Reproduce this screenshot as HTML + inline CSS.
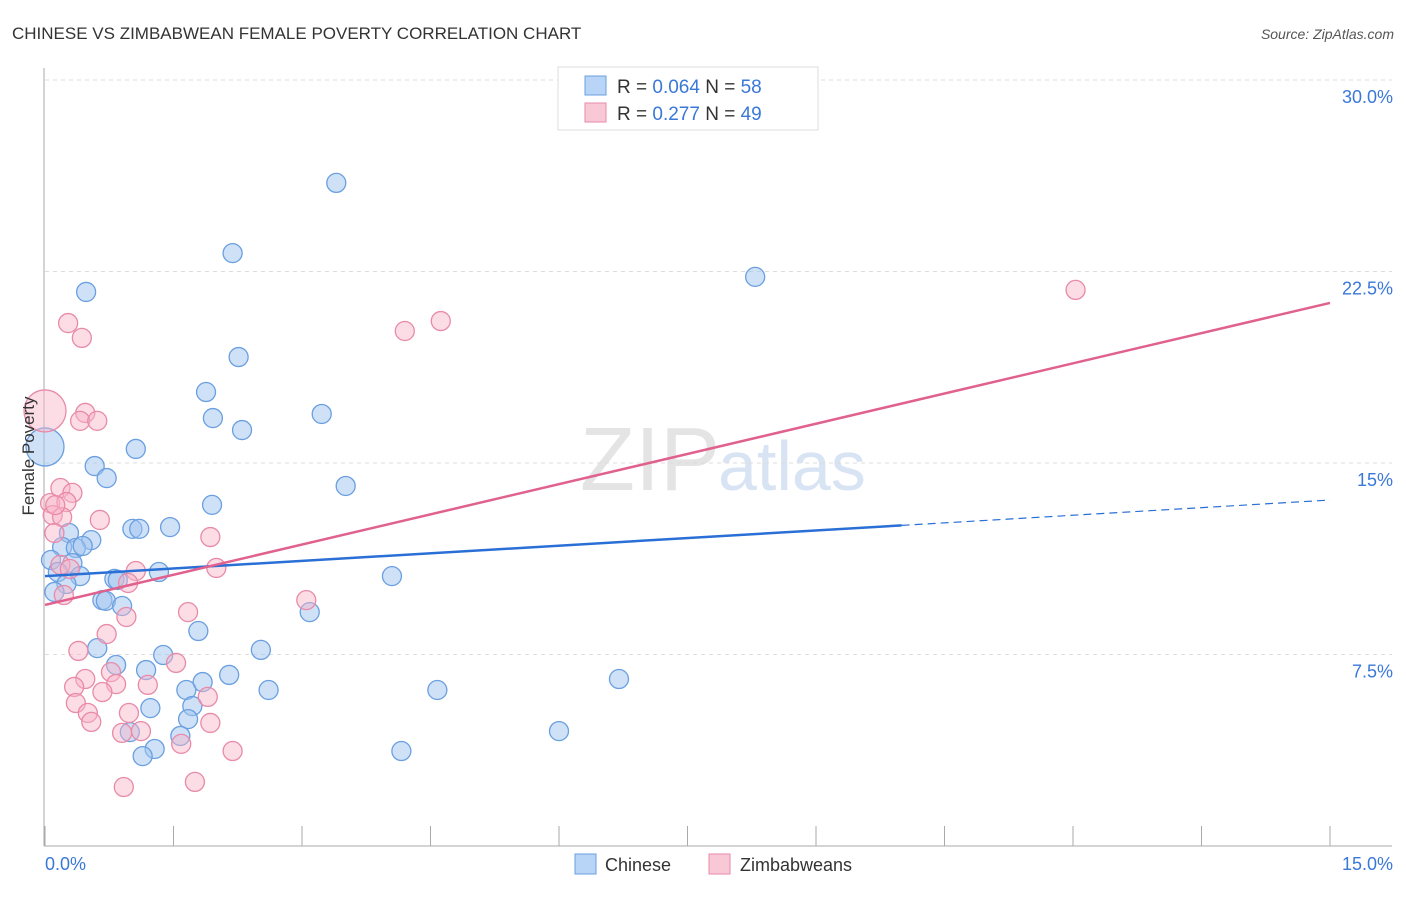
<!DOCTYPE html>
<html><head><meta charset="utf-8"><style>
body{margin:0;background:#fff;font-family:"Liberation Sans",sans-serif}
svg text{font-family:"Liberation Sans",sans-serif}
</style></head><body>
<svg id="chart" width="1406" height="892" xmlns="http://www.w3.org/2000/svg">
<text x="12" y="39" font-size="17" fill="#333">CHINESE VS ZIMBABWEAN FEMALE POVERTY CORRELATION CHART</text>
<text x="1394" y="39" font-size="14" fill="#555" font-style="italic" text-anchor="end">Source: ZipAtlas.com</text>
<text x="720" y="490" font-size="90" fill="#e4e4e4" font-family="Liberation Serif" text-anchor="end">ZIP</text>
<text x="718" y="490" font-size="70" fill="#d8e4f4">atlas</text>
<g id="grid"></g><g id="axes"></g><g id="pts"></g><g id="trend"></g>
<text transform="translate(34,456) rotate(-90)" font-size="17" fill="#333" text-anchor="middle">Female Poverty</text>
<g>
<rect x="558" y="67" width="260" height="63" fill="#fff" stroke="#ddd"/>
<rect x="585" y="76" width="21" height="19" fill="#b8d4f6" stroke="#6a9fe0"/>
<rect x="585" y="103" width="21" height="19" fill="#f9c8d6" stroke="#e88aa8"/>
<text x="617" y="93" font-size="19" fill="#333">R = <tspan fill="#3a78d8">0.064</tspan>   N = <tspan fill="#3a78d8">58</tspan></text>
<text x="617" y="120" font-size="19" fill="#333">R =  <tspan fill="#3a78d8">0.277</tspan>   N = <tspan fill="#3a78d8">49</tspan></text>
</g>
<g>
<rect x="575" y="854" width="21" height="20" fill="#b8d4f6" stroke="#6a9fe0"/>
<text x="605" y="871" font-size="18" fill="#333">Chinese</text>
<rect x="709" y="854" width="21" height="20" fill="#f9c8d6" stroke="#e88aa8"/>
<text x="740" y="871" font-size="18" fill="#333">Zimbabweans</text>
</g>
</svg>
<script>
const yTicks=[30,22.5,15,7.5];
const chineseX=[3.40,2.19,0.48,8.29,2.26,1.88,1.96,3.23,2.30,0,1.06,0.58,0.72,3.51,1.95,1.02,1.10,1.46,0.28,0.54,0.20,0.36,0.44,0.07,0.32,0.41,0.15,0.25,0.81,0.85,1.33,4.05,0.11,0.67,0.71,0.90,3.09,1.79,0.61,2.52,0.83,1.18,1.38,2.15,1.84,1.65,2.61,4.58,6.70,1.23,1.72,1.67,0.99,1.58,1.28,1.14,4.16,6.00];
const chineseY=[25.97,23.22,21.70,22.29,19.15,17.78,16.76,16.92,16.29,15.63,15.55,14.88,14.41,14.10,13.36,12.42,12.42,12.49,12.26,11.98,11.71,11.67,11.75,11.20,11.08,10.57,10.73,10.26,10.46,10.42,10.73,10.57,9.95,9.63,9.60,9.40,9.16,8.42,7.75,7.68,7.09,6.89,7.48,6.70,6.42,6.11,6.11,6.11,6.54,5.40,5.48,4.97,4.46,4.31,3.80,3.52,3.72,4.50];
const zimX=[12.03,0.27,0.43,4.20,4.62,0,0.47,0.41,0.61,0.18,0.32,0.06,0.25,0.09,0.20,0.11,1.93,0.18,1.06,2.00,0.97,0.22,3.05,1.67,0.95,0.72,0.39,1.53,0.77,0.47,0.34,0.83,1.20,0.67,1.90,0.36,0.50,0.98,0.54,1.93,1.12,0.90,1.59,2.19,0.92,1.75,0.12,0.29,0.64];
const zimY=[21.78,20.48,19.90,20.17,20.56,17.04,16.96,16.65,16.65,14.02,13.83,13.43,13.47,12.96,12.88,12.26,12.10,11.01,10.77,10.89,10.30,9.83,9.63,9.16,8.97,8.30,7.64,7.17,6.81,6.54,6.23,6.34,6.31,6.03,5.84,5.60,5.21,5.21,4.86,4.82,4.50,4.43,4.00,3.72,2.31,2.51,13.35,10.85,12.77];
const chineseTrend=[10.57,13.55];
const zimTrend=[9.44,21.27];
const NS='http://www.w3.org/2000/svg';
const sx=v=>45+v/15*1285, sy=v=>846-v*25.533;
function mk(t,a,p){const e=document.createElementNS(NS,t);for(const k in a)e.setAttribute(k,a[k]);document.getElementById(p).appendChild(e);return e;}
yTicks.forEach(t=>{
 const l=mk('line',{x1:45,x2:1392,y1:sy(t),y2:sy(t),stroke:'#ddd','stroke-dasharray':'4,4'},'grid');
 
 
 const tx=mk('text',{x:1393,y:sy(t)+23,'font-size':18,fill:'#3a78d8','text-anchor':'end'},'grid');
 tx.textContent=(t===30?'30.0':t)+'%';
 
 
});
mk('line',{x1:44,x2:44,y1:68,y2:846,stroke:'#aaa'},'axes');
mk('line',{x1:44,x2:1392,y1:846,y2:846,stroke:'#aaa'},'axes');
for(let i=0;i<=10;i++){const t=mk('line',{x1:sx(i*1.5),x2:sx(i*1.5),y1:826,y2:846,stroke:'#aaa'},'axes');
 
 }
const x0=mk('text',{x:45,y:870,'font-size':18,fill:'#3a78d8'},'axes');x0.textContent='0.0%';


const x1=mk('text',{x:1393,y:870,'font-size':18,fill:'#3a78d8','text-anchor':'end'},'axes');x1.textContent='15.0%';


function pts(X,Y,fill,stroke,name,big){X.forEach((x,i)=>{const c=mk('circle',{cx:sx(x),cy:sy(Y[i]),r:(x===0?big:9.5),fill:fill,stroke:stroke,'stroke-width':1.3},'pts');
 
 });}
pts(chineseX,chineseY,'rgba(160,196,240,0.5)','#6a9fe0','chinese-point',19);
pts(zimX,zimY,'rgba(248,180,200,0.45)','#e88aa8','zimbabwean-point',21);
const bm=chineseTrend[0]+(chineseTrend[1]-chineseTrend[0])*10/15;
let l=mk('line',{x1:sx(0),y1:sy(chineseTrend[0]),x2:sx(10),y2:sy(bm),stroke:'#2a6fd6','stroke-width':2.5},'trend');


l=mk('line',{x1:sx(10),y1:sy(bm),x2:sx(15),y2:sy(chineseTrend[1]),stroke:'#2a6fd6','stroke-width':1.2,'stroke-dasharray':'8,5'},'trend');


l=mk('line',{x1:sx(0),y1:sy(zimTrend[0]),x2:sx(15),y2:sy(zimTrend[1]),stroke:'#e0608e','stroke-width':2.5},'trend');


</script>
</body></html>
